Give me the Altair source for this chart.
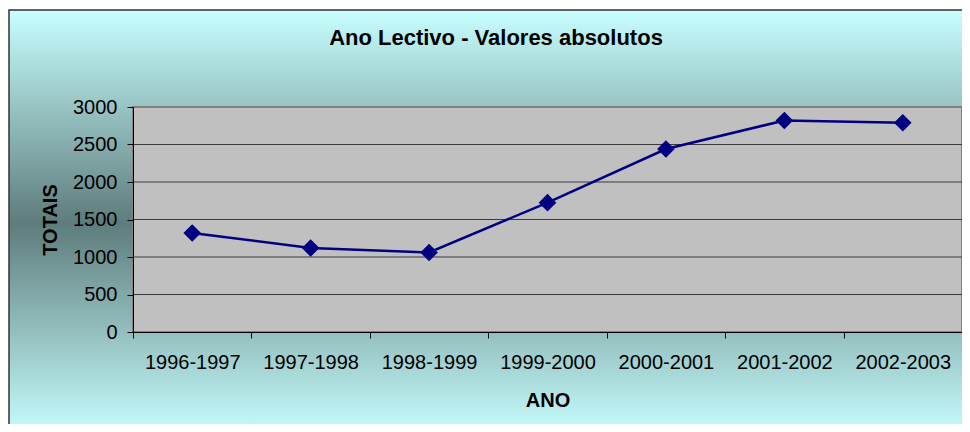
import altair as alt
import pandas as pd

# ---- data ----
anos = ["1996-1997", "1997-1998", "1998-1999", "1999-2000",
        "2000-2001", "2001-2002", "2002-2003"]
totais = [1320, 1120, 1060, 1725, 2440, 2820, 2790]
grid_vals = [500, 1000, 1500, 2000, 2500]
y_ticks = [0, 500, 1000, 1500, 2000, 2500, 3000]
titulo = "Ano Lectivo - Valores absolutos"
titulo_x = "ANO"
titulo_y = "TOTAIS"

W, H = 829, 225
FONT = "Liberation Sans"

df = pd.DataFrame({"ano": anos, "valor": totais})
df_grid = pd.DataFrame({"valor": grid_vals})

y_axis = alt.Axis(
    values=y_ticks, format="d", title=titulo_y, grid=False, zindex=1,
    domainColor="#000000", domainWidth=1, tickColor="#000000", tickSize=6,
    labelPadding=10, labelFont=FONT, labelFontSize=20, labelColor="#000000",
    labelBaseline="middle",
    titleFont=FONT, titleFontSize=20, titleFontWeight="bold", titleColor="#000000",
    titleAngle=270, titleAlign="center", titleBaseline="alphabetic",
    titleX=-77, titleY=H / 2,
)
y_scale = alt.Scale(domain=[0, 3000], nice=False, zero=True)

x_enc = alt.X(
    "ano:N", sort=anos,
    scale=alt.Scale(type="band", paddingInner=0, paddingOuter=0),
    axis=alt.Axis(
        title=titulo_x, labelAngle=0, tickBand="extent", zindex=1,
        domainColor="#000000", tickColor="#000000", tickSize=6,
        labelPadding=30, labelBaseline="alphabetic", labelOverlap=False,
        labelFont=FONT, labelFontSize=20, labelColor="#000000",
        titleFont=FONT, titleFontSize=20, titleFontWeight="bold", titleColor="#000000",
        titleX=W / 2, titleY=74, titleBaseline="alphabetic", titleAlign="center",
    ),
)

one = alt.Data(values=[{}])

background = alt.Chart(one).mark_rect(
    fill=alt.Gradient(
        gradient="linear", x1=0, y1=0, x2=0, y2=1,
        stops=[
            alt.GradientStop(color="#C8FFFF", offset=0),
            alt.GradientStop(color="#5E7C7C", offset=0.5),
            alt.GradientStop(color="#C8FFFF", offset=1),
        ],
    ),
    stroke="#333333", strokeWidth=1.5,
).encode(x=alt.value(-124), x2=alt.value(880), y=alt.value(-97), y2=alt.value(330))

plot_bg = alt.Chart(one).mark_rect(
    fill="#C0C0C0", stroke="#808080", strokeWidth=2
).encode(x=alt.value(0), x2=alt.value(W), y=alt.value(0), y2=alt.value(H))

grid = alt.Chart(df_grid).mark_rule(color="#3A3A3A", strokeWidth=1).encode(
    y=alt.Y("valor:Q", scale=y_scale, axis=y_axis)
)

line = alt.Chart(df).mark_line(
    color="#000080", strokeWidth=2.5,
    point=alt.OverlayMarkDef(shape="diamond", size=310, filled=True, color="#000080"),
).encode(
    x=x_enc,
    y=alt.Y("valor:Q", scale=y_scale, axis=y_axis),
)

title_mark = alt.Chart(one).mark_text(
    text=titulo, font=FONT, fontSize=22, fontWeight="bold",
    align="center", baseline="alphabetic", color="#000000",
).encode(x=alt.value(363), y=alt.value(-62))

chart = alt.layer(background, plot_bg, grid, line, title_mark).properties(
    width=W, height=H,
    autosize=alt.AutoSizeParams(type="none"),
    padding={"left": 125, "top": 99, "right": 0, "bottom": 92},
).configure_view(strokeWidth=0)

chart.save("out.html", embed_options={"renderer": "svg", "actions": False})
